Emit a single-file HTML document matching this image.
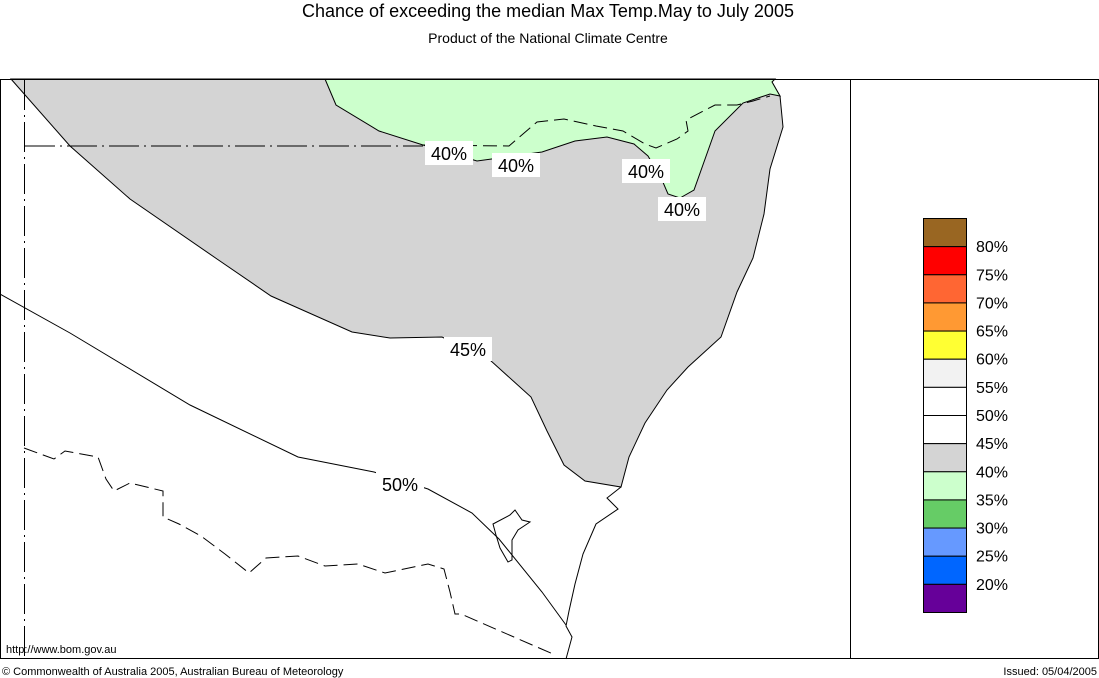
<!DOCTYPE html>
<html><head><meta charset="utf-8"><style>
body{margin:0;background:#fff;}
svg{display:block;font-family:"Liberation Sans",Arial,sans-serif;}
</style></head><body>
<svg id="chart" width="1099" height="678" viewBox="0 0 1099 678">
<text x="548" y="17" font-size="18" text-anchor="middle">Chance of exceeding the median Max Temp.May to July 2005</text>
<text x="548" y="43" font-size="14" text-anchor="middle">Product of the National Climate Centre</text>
<g id="map"></g>
<rect x="0.5" y="79.5" width="1098" height="579" fill="none" stroke="#000"/>
<line x1="850.5" y1="79" x2="850.5" y2="659" stroke="#000"/>
<g id="legend"></g>
<text x="6" y="653" font-size="11">http://www.bom.gov.au</text>
<text x="2" y="675" font-size="11">© Commonwealth of Australia 2005, Australian Bureau of Meteorology</text>
<text x="1097" y="675" font-size="11" text-anchor="end">Issued: 05/04/2005</text>
</svg>
<script>
const legendColors=["#996622","#ff0000","#ff6633","#ff9933","#ffff33","#f2f2f2","#ffffff","#ffffff","#d4d4d4","#ccffcc","#66cc66","#6699ff","#0066ff","#660099"];
const legendLabels=["80%","75%","70%","65%","60%","55%","50%","45%","40%","35%","30%","25%","20%"];
const grayRegion=[[11,79],[70,146],[130,199],[217,259],[271,296],[352,332],[390,338],[442,337],[490,360],[531,397],[547,431],[564,465],[585,481],[621,487],[629,457],[645,423],[667,390],[688,367],[721,337],[737,292],[753,258],[764,214],[770,169],[783,127],[780,96],[772,82],[770,79]];
const greenRegion=[[325,79],[336,105],[379,131],[423,145],[477,161],[542,152],[575,141],[607,137],[634,144],[648,156],[662,180],[668,194],[680,198],[694,190],[715,131],[743,103],[770,94],[780,96],[772,82],[775,79]];
const line50=[[0,294],[70,333],[190,405],[298,457],[374,472],[428,489],[472,513],[499,539],[542,592],[566,625]];
const coastSouth=[[621,487],[607,498],[618,509],[596,524],[583,554],[575,584],[569,611],[566,626],[572,637],[566,659]];
const qldBorder=[[423,145],[509,146],[537,122],[564,119],[596,126],[623,131],[645,144],[656,148],[677,139],[688,131],[686,120],[715,105],[737,105],[753,101],[770,96]];
const vicBorder=[[24,448],[54,459],[65,451],[98,457],[106,479],[114,491],[130,483],[163,491],[163,517],[179,524],[201,536],[225,554],[249,573],[266,558],[298,556],[325,566],[358,564],[385,573],[428,564],[444,569],[450,592],[455,614],[461,614],[553,654]];
const actBorder=[[493,524],[510,515],[515,510],[522,520],[530,522],[518,530],[512,540],[512,560],[508,562],[500,548],[496,535]];
const contourLabels=[["40%",449,153],["40%",516,165],["40%",646,171],["40%",682,209],["45%",468,349],["50%",400,484]];
const NS="http://www.w3.org/2000/svg";
const map=document.getElementById('map'), leg=document.getElementById('legend');
function pts(a){return a.map(p=>p[0]+","+p[1]).join(" ");}
function add(parent,tag,attrs){const e=document.createElementNS(NS,tag);for(const k in attrs)e.setAttribute(k,attrs[k]);parent.appendChild(e);return e;}
let e;
e=add(map,'polygon',{points:pts(grayRegion),fill:"#d4d4d4",stroke:"#000","stroke-width":1});


e=add(map,'polygon',{points:pts(greenRegion),fill:"#ccffcc",stroke:"#000","stroke-width":1});


e=add(map,'polyline',{points:pts(line50),fill:"none",stroke:"#000","stroke-width":1});


e=add(map,'polyline',{points:pts(coastSouth),fill:"none",stroke:"#000","stroke-width":1});


e=add(map,'polyline',{points:pts(qldBorder),fill:"none",stroke:"#000","stroke-width":1,"stroke-dasharray":"14 6"});


e=add(map,'polyline',{points:pts(vicBorder),fill:"none",stroke:"#000","stroke-width":1,"stroke-dasharray":"14 6"});


e=add(map,'polygon',{points:pts(actBorder),fill:"none",stroke:"#000","stroke-width":1});


e=add(map,'line',{x1:25,y1:146,x2:423,y2:146,stroke:"#000","stroke-dasharray":"30 5 2 5"});


e=add(map,'line',{x1:24.5,y1:80,x2:24.5,y2:659,stroke:"#000","stroke-dasharray":"30 5 2 5"});


contourLabels.forEach(c=>{
  const g=add(map,'g',{});
  
  
  add(g,'rect',{x:c[1]-24,y:c[2]-12,width:48,height:24,fill:"#fff"});
  const t=add(g,'text',{x:c[1],y:c[2]+7,"font-size":18,"text-anchor":"middle"});
  t.textContent=c[0];
});
const lx=923,ly=218,lw=43,lh=(612-218)/legendColors.length;
legendColors.forEach((col,i)=>{
  const r=add(leg,'rect',{x:lx+0.5,y:ly+i*lh+0.5,width:lw,height:lh,fill:col,stroke:"#000","stroke-width":1});
  
  
});
legendLabels.forEach((l,i)=>{
  const t=add(leg,'text',{x:976,y:ly+(i+1)*lh+6,"font-size":16});
  
  
  t.textContent=l;
});
</script>
</body></html>
